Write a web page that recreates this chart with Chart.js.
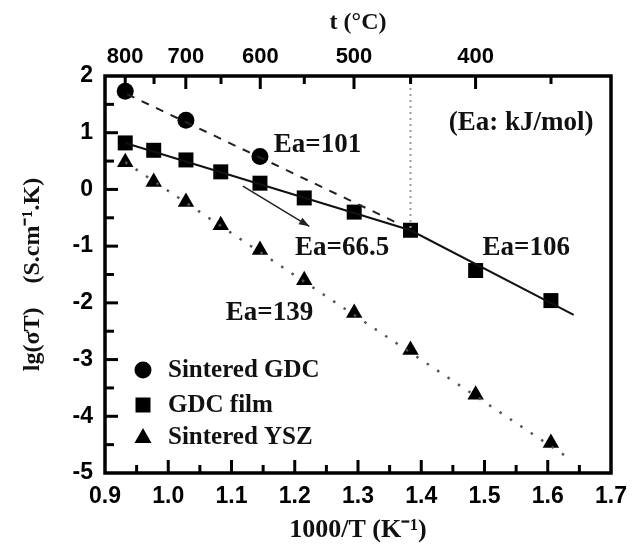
<!DOCTYPE html>
<html>
<head>
<meta charset="utf-8">
<script src="https://cdn.jsdelivr.net/npm/chart.js@4.4.0/dist/chart.umd.min.js"></script>
<style>
    html, body { margin: 0; padding: 0; background: #fff; }
    canvas { display: block; }
</style>
</head>
<body>
<canvas id="myChart" width="640" height="550"></canvas>
<script>
// 1000/T positions of the measuring temperatures (800 ... 350 C)
const invT = [0.932, 0.977, 1.028, 1.083, 1.145, 1.215, 1.294, 1.383, 1.486, 1.605];

const gdcX = [0.932, 1.028, 1.145];
const gdcY = [1.73, 1.22, 0.58];
const filmY = [0.82, 0.69, 0.52, 0.31, 0.11, -0.15, -0.40, -0.72, -1.43, -1.96];
const yszY = [0.48, 0.13, -0.22, -0.63, -1.07, -1.60, -2.18, -2.83, -3.62, -4.47];

// fitted lines
const gdcFitX = [0.935, 1.36];
const gdcFitY = [1.68, -0.58];
const filmFitX = [0.932, 1.383, 1.641];
const filmFitY = [0.82, -0.72, -2.21];
const yszFitX = [0.932, 1.628];
const yszFitY = [0.48, -4.70];
const guideX = [1.383, 1.383];
const guideY = [2, -0.72];
const arrowX = [1.118, 1.223];
const arrowY = [0.06, -0.65];

// top axis (temperature in C)
const tempMajor = [800, 700, 600, 500, 400];
const tempMinor = [750, 650, 550, 450, 350];

// axis tick marks (drawn inward)
const xTicks = [0.95, 1.0, 1.05, 1.1, 1.15, 1.2, 1.25, 1.3, 1.35, 1.4, 1.45, 1.5, 1.55, 1.6, 1.65];
const yTicks = [-4.5, -4, -3.5, -3, -2.5, -2, -1.5, -1, -0.5, 0, 0.5, 1, 1.5];

const notes = [
    { text: 'Ea=101', x: 1.236, y: 0.78 },
    { text: 'Ea=66.5', x: 1.275, y: -1.03 },
    { text: 'Ea=106', x: 1.566, y: -1.03 },
    { text: 'Ea=139', x: 1.160, y: -2.18 },
    { text: '(Ea: kJ/mol)', x: 1.558, y: 1.17 }
];
const legendItems = [
    { text: 'Sintered GDC', style: 'circle' },
    { text: 'GDC film', style: 'rect' },
    { text: 'Sintered YSZ', style: 'triangle' }
];

const SERIF = '"Liberation Serif", "Times New Roman", serif';
const SANS = '"Liberation Sans", Arial, sans-serif';

const pts = (xs, ys) => xs.map((v, i) => ({ x: v, y: ys[i] }));
const toInvT = t => 1000 / (t + 273);
const isTenth = v => Math.abs(v * 10 - Math.round(v * 10)) < 1e-6;

function marker(ctx, style, cx, cy) {
    ctx.beginPath();
    if (style === 'circle') {
        ctx.arc(cx, cy, 8.5, 0, Math.PI * 2);
    } else if (style === 'rect') {
        ctx.rect(cx - 7.5, cy - 7.5, 15, 15);
    } else {
        ctx.moveTo(cx, cy - 9);
        ctx.lineTo(cx + 8.5, cy + 6);
        ctx.lineTo(cx - 8.5, cy + 6);
        ctx.closePath();
    }
    ctx.fill();
}

function tick(ctx, x0, y0, x1, y1) {
    ctx.beginPath();
    ctx.moveTo(x0, y0);
    ctx.lineTo(x1, y1);
    ctx.stroke();
}

const decorations = {
    id: 'decorations',
    afterDraw(chart) {
        const { ctx, chartArea: a, scales } = chart;
        const x = scales.x, y = scales.y;
        ctx.save();
        ctx.setLineDash([]);

        // frame
        ctx.strokeStyle = '#000';
        ctx.lineWidth = 3.5;
        ctx.strokeRect(a.left, a.top, a.right - a.left, a.bottom - a.top);

        // inward ticks
        ctx.lineWidth = 3;
        xTicks.forEach(v => {
            const px = x.getPixelForValue(v);
            const len = isTenth(v) ? 13 : 8;
            tick(ctx, px, a.bottom, px, a.bottom - len);
        });
        yTicks.forEach(v => {
            const py = y.getPixelForValue(v);
            const len = Number.isInteger(v) ? 13 : 9;
            tick(ctx, a.left, py, a.left + len, py);
        });
        tempMajor.forEach(t => {
            const px = x.getPixelForValue(toInvT(t));
            tick(ctx, px, a.top, px, a.top + 13);
        });
        tempMinor.forEach(t => {
            const px = x.getPixelForValue(toInvT(t));
            tick(ctx, px, a.top, px, a.top + 8);
        });

        // arrow head
        const x0 = x.getPixelForValue(arrowX[0]), y0 = y.getPixelForValue(arrowY[0]);
        const x1 = x.getPixelForValue(arrowX[1]), y1 = y.getPixelForValue(arrowY[1]);
        const ang = Math.atan2(y1 - y0, x1 - x0);
        ctx.fillStyle = '#222';
        ctx.beginPath();
        ctx.moveTo(x1, y1);
        ctx.lineTo(x1 - 11 * Math.cos(ang - 0.35), y1 - 11 * Math.sin(ang - 0.35));
        ctx.lineTo(x1 - 11 * Math.cos(ang + 0.35), y1 - 11 * Math.sin(ang + 0.35));
        ctx.closePath();
        ctx.fill();

        // annotations
        ctx.fillStyle = '#111';
        ctx.font = 'bold 27px ' + SERIF;
        ctx.textAlign = 'center';
        ctx.textBaseline = 'middle';
        notes.forEach(n => {
            ctx.fillText(n.text, x.getPixelForValue(n.x), y.getPixelForValue(n.y));
        });

        // legend
        const rows = [a.bottom - 103, a.bottom - 68, a.bottom - 36];
        ctx.font = 'bold 25px ' + SERIF;
        ctx.textAlign = 'left';
        legendItems.forEach((item, i) => {
            ctx.fillStyle = '#000';
            marker(ctx, item.style, a.left + 38, rows[i]);
            ctx.fillStyle = '#111';
            ctx.fillText(item.text, a.left + 63, rows[i] + 1);
        });

        ctx.restore();
    }
};

const canvas = document.getElementById('myChart');
new Chart(canvas, {
    type: 'scatter',
    data: {
        datasets: [
            {
                label: 'guide',
                data: pts(guideX, guideY),
                showLine: true,
                pointRadius: 0,
                borderColor: '#9a9a9a',
                borderWidth: 2,
                borderDash: [2, 4]
            },
            {
                label: 'GDC fit',
                data: pts(gdcFitX, gdcFitY),
                showLine: true,
                pointRadius: 0,
                borderColor: '#222',
                borderWidth: 2,
                borderDash: [8, 8]
            },
            {
                label: 'film fit',
                data: pts(filmFitX, filmFitY),
                showLine: true,
                pointRadius: 0,
                borderColor: '#111',
                borderWidth: 2
            },
            {
                label: 'YSZ fit',
                data: pts(yszFitX, yszFitY),
                showLine: true,
                pointRadius: 0,
                borderColor: '#555',
                borderWidth: 2.5,
                borderDash: [2.5, 10]
            },
            {
                label: 'arrow',
                data: pts(arrowX, arrowY),
                showLine: true,
                pointRadius: 0,
                borderColor: '#222',
                borderWidth: 1.5
            },
            {
                label: 'Sintered GDC',
                data: pts(gdcX, gdcY),
                pointStyle: 'circle',
                pointRadius: 8.5,
                backgroundColor: '#000',
                borderColor: '#000',
                borderWidth: 0
            },
            {
                label: 'GDC film',
                data: pts(invT, filmY),
                pointStyle: 'rect',
                pointRadius: 10.6,
                backgroundColor: '#000',
                borderColor: '#000',
                borderWidth: 0
            },
            {
                label: 'Sintered YSZ',
                data: pts(invT, yszY),
                pointStyle: 'triangle',
                pointRadius: 9.5,
                backgroundColor: '#000',
                borderColor: '#000',
                borderWidth: 0
            }
        ]
    },
    options: {
        responsive: false,
        animation: false,
        layout: { padding: { right: 29 } },
        plugins: {
            legend: { display: false },
            tooltip: { enabled: false }
        },
        scales: {
            x: {
                type: 'linear',
                position: 'bottom',
                min: 0.9,
                max: 1.7,
                afterFit: s => { s.height = 77; },
                grid: { display: false, drawTicks: false },
                border: { display: false },
                ticks: {
                    stepSize: 0.1,
                    autoSkip: false,
                    maxRotation: 0,
                    padding: 10,
                    color: '#000',
                    font: { family: SANS, weight: 'bold', size: 23 },
                    callback: v => v.toFixed(1)
                },
                title: {
                    display: true,
                    text: '1000/T (K\u207B\u00B9)',
                    color: '#111',
                    font: { family: SERIF, weight: 'bold', size: 26 },
                    padding: { bottom: 4 }
                }
            },
            x2: {
                type: 'linear',
                position: 'top',
                min: 0.9,
                max: 1.7,
                afterFit: s => { s.height = 76; },
                afterBuildTicks: s => {
                    s.ticks = tempMajor.map(t => ({ value: toInvT(t) }));
                },
                grid: { display: false, drawTicks: false },
                border: { display: false },
                ticks: {
                    autoSkip: false,
                    maxRotation: 0,
                    padding: 6,
                    color: '#000',
                    font: { family: SANS, weight: 'bold', size: 22 },
                    callback: v => Math.round(1000 / v - 273)
                },
                title: {
                    display: true,
                    text: 't (\u00B0C)',
                    color: '#111',
                    font: { family: SERIF, weight: 'bold', size: 24 },
                    padding: { top: 8 }
                }
            },
            y: {
                min: -5,
                max: 2,
                afterFit: s => { s.width = 105; },
                grid: { display: false, drawTicks: false },
                border: { display: false },
                ticks: {
                    stepSize: 1,
                    padding: 12,
                    color: '#000',
                    font: { family: SANS, weight: 'bold', size: 23 }
                },
                title: {
                    display: true,
                    text: 'lg(\u03C3T)    (S.cm\u207B\u00B9.K)',
                    color: '#111',
                    font: { family: SERIF, weight: 'bold', size: 24 },
                    padding: { top: 18 }
                }
            }
        }
    },
    plugins: [decorations]
});
</script>
</body>
</html>
